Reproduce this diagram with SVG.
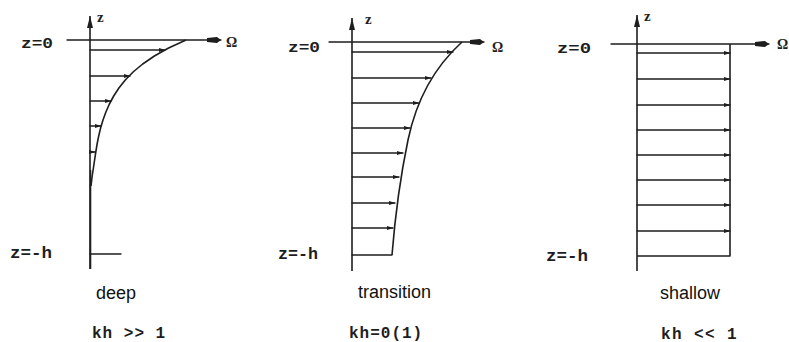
<svg xmlns="http://www.w3.org/2000/svg" width="789" height="342" viewBox="0 0 789 342">
<style>
.ln{stroke:#1e1e1e;stroke-width:1.3;fill:none;stroke-linecap:round}
.ax{stroke:#1e1e1e;stroke-width:1.6;fill:none}
.cv{stroke:#1e1e1e;stroke-width:1.6;fill:none;stroke-linejoin:round}
.arr{marker-end:url(#ah)}
.mono{font-family:"Liberation Mono","DejaVu Sans Mono",monospace;font-weight:bold;fill:#1e1e1e}
.serif{font-family:"Liberation Serif","DejaVu Serif",serif;font-weight:bold;fill:#1e1e1e}
.sans{font-family:"Liberation Sans",Arial,sans-serif;font-size:18px;fill:#111}
</style>
<defs>
<marker id="ah" viewBox="0 0 8 6" refX="7.5" refY="3" markerWidth="7" markerHeight="5" markerUnits="userSpaceOnUse" orient="auto">
<path d="M0,0.5 L8,3 L0,5.5 Z" fill="#1e1e1e"/>
</marker>
<marker id="up" viewBox="0 0 6 12" refX="3" refY="0" markerWidth="6" markerHeight="12" markerUnits="userSpaceOnUse" orient="0">
<path d="M3,0 L6,12 L0,12 Z" fill="#1e1e1e"/>
</marker>
<marker id="rt" viewBox="0 0 14 6" refX="14" refY="3" markerWidth="14" markerHeight="6" markerUnits="userSpaceOnUse" orient="0">
<path d="M0,1 L10,0 L14,3 L10,6 L0,5 Z" fill="#1e1e1e"/>
</marker>
</defs>

<g id="deep">
<line class="ax" x1="90" y1="269" x2="90" y2="16" marker-end="url(#up)"/>
<line class="ax" x1="90.5" y1="170" x2="90.5" y2="269" stroke-width="2.4"/>
<line class="ln" x1="67" y1="40" x2="221" y2="40" marker-end="url(#rt)"/>
<polyline class="cv" points="186,40 168.6,48 154.4,56 142.7,64 133.1,72 125.3,80 118.9,88 113.7,96 109.4,104 105.9,112 103,120 100.6,128 98.7,136 97.1,144 95.8,152 94.6,160 93.4,168 92.2,176 91,186"/>
<line class="ln" x1="90" y1="254" x2="121" y2="254"/>
<text class="serif" x="97" y="22" font-size="15">z</text>
<text class="mono" x="21" y="48" font-size="15" textLength="32" lengthAdjust="spacingAndGlyphs">z=0</text>
<text class="serif" x="226" y="47" font-size="14">Ω</text>
<text class="mono" x="10" y="258" font-size="16" textLength="42" lengthAdjust="spacingAndGlyphs">z=-h</text>
<text class="sans" x="96" y="299">deep</text>
<text class="mono" x="92" y="338" font-size="16" letter-spacing="1">kh &gt;&gt; 1</text>
</g>

<g id="transition">
<line class="ax" x1="352" y1="271" x2="352" y2="18" marker-end="url(#up)"/>
<line class="ln" x1="329" y1="42" x2="484" y2="42" marker-end="url(#rt)"/>
<path class="cv" d="M462,42 C440,62 418,92 408,140 S394,230 392,255"/>
<line class="ln" x1="352" y1="255" x2="392" y2="255"/>
<text class="serif" x="365" y="24" font-size="15">z</text>
<text class="mono" x="288" y="52" font-size="15" textLength="32" lengthAdjust="spacingAndGlyphs">z=0</text>
<text class="serif" x="492" y="52" font-size="14">Ω</text>
<text class="mono" x="278" y="259" font-size="16" textLength="40" lengthAdjust="spacingAndGlyphs">z=-h</text>
<text class="sans" x="358" y="298">transition</text>
<text class="mono" x="349" y="338" font-size="16" letter-spacing="1">kh=0(1)</text>
</g>

<g id="shallow">
<line class="ax" x1="637" y1="271" x2="637" y2="15" marker-end="url(#up)"/>
<line class="ln" x1="611" y1="44" x2="769" y2="44" marker-end="url(#rt)"/>
<polyline class="cv" points="730,44 730,256 637,256"/>
<text class="serif" x="644" y="21" font-size="15">z</text>
<text class="mono" x="557" y="53" font-size="15" textLength="34" lengthAdjust="spacingAndGlyphs">z=0</text>
<text class="serif" x="777" y="49" font-size="14">Ω</text>
<text class="mono" x="546" y="261" font-size="16" textLength="42" lengthAdjust="spacingAndGlyphs">z=-h</text>
<text class="sans" x="660" y="299">shallow</text>
<text class="mono" x="661" y="339" font-size="16" letter-spacing="1.4">kh &lt;&lt; 1</text>
</g>

<g id="connectors">
<line class="ln arr" x1="90" y1="50" x2="165" y2="50"/>
<line class="ln arr" x1="90" y1="76" x2="130" y2="76"/>
<line class="ln arr" x1="90" y1="101" x2="111" y2="101"/>
<line class="ln arr" x1="90" y1="126" x2="101" y2="126"/>
<line class="ln arr" x1="90" y1="152" x2="95" y2="152"/>

<line class="ln arr" x1="352" y1="52" x2="453" y2="52"/>
<line class="ln arr" x1="352" y1="78" x2="431" y2="78"/>
<line class="ln arr" x1="352" y1="103" x2="419" y2="103"/>
<line class="ln arr" x1="352" y1="128" x2="410" y2="128"/>
<line class="ln arr" x1="352" y1="153" x2="403" y2="153"/>
<line class="ln arr" x1="352" y1="177" x2="399" y2="177"/>
<line class="ln arr" x1="352" y1="203" x2="395" y2="203"/>
<line class="ln arr" x1="352" y1="228" x2="393" y2="228"/>

<line class="ln arr" x1="637" y1="53" x2="730" y2="53"/>
<line class="ln arr" x1="637" y1="79" x2="730" y2="79"/>
<line class="ln arr" x1="637" y1="105" x2="730" y2="105"/>
<line class="ln arr" x1="637" y1="130" x2="730" y2="130"/>
<line class="ln arr" x1="637" y1="155" x2="730" y2="155"/>
<line class="ln arr" x1="637" y1="180" x2="730" y2="180"/>
<line class="ln arr" x1="637" y1="205" x2="730" y2="205"/>
<line class="ln arr" x1="637" y1="231" x2="730" y2="231"/>
</g>
</svg>
